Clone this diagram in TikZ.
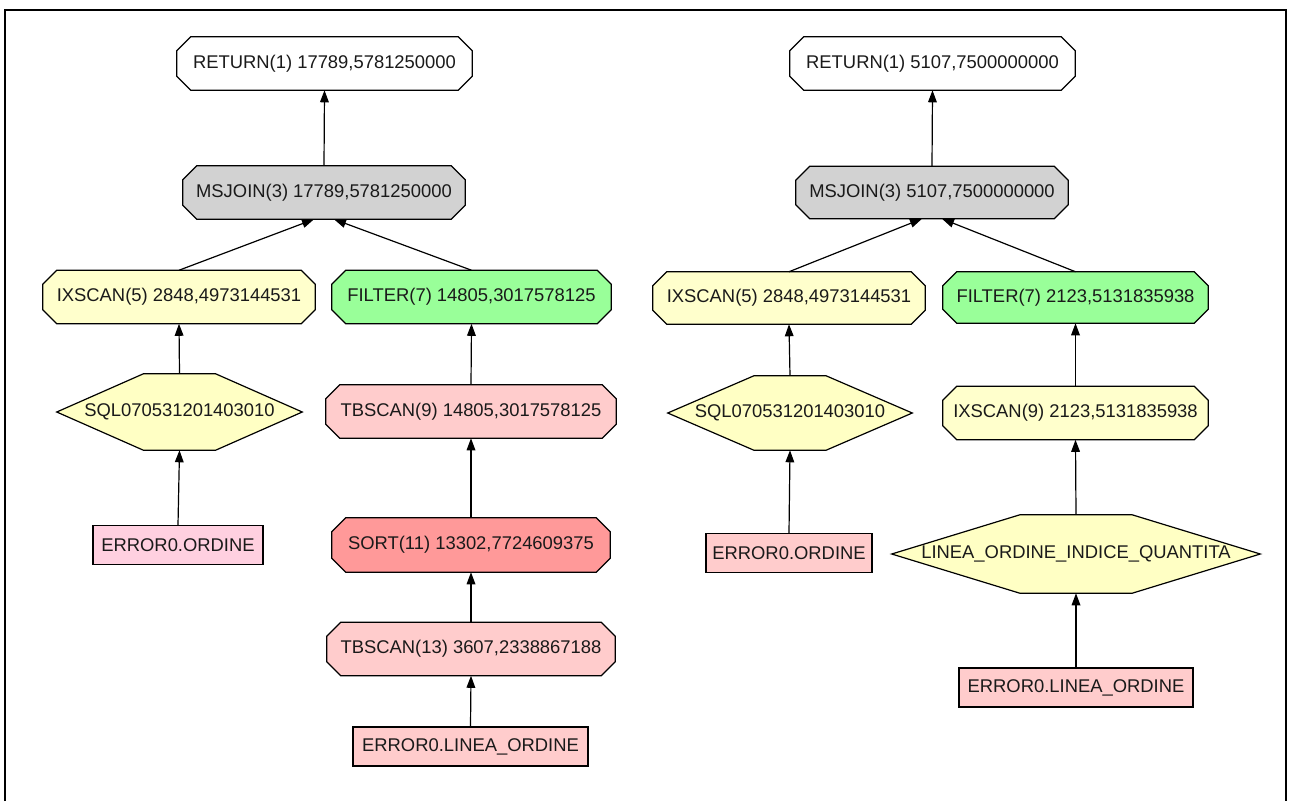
\documentclass[tikz,border=0pt]{standalone}
\usepackage{fontspec}
\setmainfont{Liberation Sans}
\usetikzlibrary{arrows.meta,backgrounds}

\definecolor{retfill}{RGB}{255,255,255}
\definecolor{joinfill}{RGB}{210,210,210}
\definecolor{scanfill}{RGB}{255,255,204}
\definecolor{idxfill}{RGB}{255,255,196}
\definecolor{filtfill}{RGB}{153,255,153}
\definecolor{tbfill}{RGB}{255,204,204}
\definecolor{sortfill}{RGB}{255,153,153}
\definecolor{tabfill}{RGB}{255,208,224}
\definecolor{tab2fill}{RGB}{255,204,204}
\definecolor{ink}{RGB}{26,26,26}

% octagon (rectangle with cut corners) drawn round a named node
\newcommand\octo[3]{%
  \filldraw[fill=#3, draw=black, line width=0.9pt]
    ([xshift=#2]#1.north west) -- ([xshift=-#2]#1.north east) --
    ([yshift=-#2]#1.north east) -- ([yshift=#2]#1.south east) --
    ([xshift=-#2]#1.south east) -- ([xshift=#2]#1.south west) --
    ([yshift=#2]#1.south west) -- ([yshift=-#2]#1.north west) -- cycle;}
% flat-topped hexagon drawn round a named node
\newcommand\hexa[3]{%
  \filldraw[fill=#3, draw=black, line width=0.9pt]
    (#1.west) -- ([xshift=-#2]#1.north) -- ([xshift=#2]#1.north) --
    (#1.east) -- ([xshift=#2]#1.south) -- ([xshift=-#2]#1.south) -- cycle;}

\begin{document}
\begin{tikzpicture}[x=0.75pt,y=-0.75pt,
  every node/.style={font=\fontsize{13.8}{16}\selectfont, text=ink, inner sep=0pt},
  sz/.style 2 args={minimum width=#1*0.75pt, minimum height=#2*0.75pt},
  tab/.style={draw=black, line width=0.9pt},
  arr/.style={-{Triangle[length=9pt,width=6.5pt]}, line width=0.9pt, black}]

\useasboundingbox (0,0) rectangle (1289,801);

% frame
\draw[line width=1.8pt] (5,801) -- (5,10) -- (1286,10) -- (1286,801);

% ---- left plan ----
\node[sz={295}{53}] (ret1) at (324.5,63.5) {RETURN(1) 17789,5781250000};
\node[sz={282}{53}] (ms1)  at (324,192.5) {MSJOIN(3) 17789,5781250000};
\node[sz={272}{53}] (ix1)  at (179,297) {IXSCAN(5) 2848,4973144531};
\node[sz={279}{53}] (fi1)  at (471.5,297) {FILTER(7) 14805,3017578125};
\node[sz={245}{76}] (sq1)  at (179.5,412) {SQL070531201403010};
\node[sz={170}{39}, tab, fill=tabfill] (er1) at (178,545) {ERROR0.ORDINE};
\node[sz={290}{53}] (tb1)  at (471,411.5) {TBSCAN(9) 14805,3017578125};
\node[sz={278}{54}] (so1)  at (471,545) {SORT(11) 13302,7724609375};
\node[sz={288}{53}] (tb2)  at (471,649) {TBSCAN(13) 3607,2338867188};
\node[sz={235}{39}, tab, fill=tab2fill] (er2) at (470.5,746.5) {ERROR0.LINEA\_ORDINE};

% ---- right plan ----
\node[sz={285}{53}] (ret2) at (932.5,63.5) {RETURN(1) 5107,7500000000};
\node[sz={272}{52}] (ms2)  at (932,192.5) {MSJOIN(3) 5107,7500000000};
\node[sz={272}{52}] (ix2)  at (789,298) {IXSCAN(5) 2848,4973144531};
\node[sz={265}{51}] (fi2)  at (1075.5,297.5) {FILTER(7) 2123,5131835938};
\node[sz={244}{74}] (sq2)  at (790,413) {SQL070531201403010};
\node[sz={265}{53}] (ix3)  at (1075.5,413) {IXSCAN(9) 2123,5131835938};
\node[sz={166}{39}, tab, fill=tab2fill] (er3) at (789,553) {ERROR0.ORDINE};
\node[sz={368}{78}] (li)   at (1076,554) {LINEA\_ORDINE\_INDICE\_QUANTITA};
\node[sz={234}{39}, tab, fill=tab2fill] (er4) at (1076,687.5) {ERROR0.LINEA\_ORDINE};

% node outlines behind the labels
\begin{scope}[on background layer]
  \fill[white] (0,0) rectangle (1289,801);
  \octo{ret1}{10.5pt}{retfill}
  \octo{ms1}{10.5pt}{joinfill}
  \octo{ix1}{10.5pt}{scanfill}
  \octo{fi1}{10.5pt}{filtfill}
  \hexa{sq1}{27pt}{idxfill}
  \octo{tb1}{10.5pt}{tbfill}
  \octo{so1}{10.5pt}{sortfill}
  \octo{tb2}{10.5pt}{tbfill}
  \octo{ret2}{10.5pt}{retfill}
  \octo{ms2}{10.5pt}{joinfill}
  \octo{ix2}{10.5pt}{scanfill}
  \octo{fi2}{10.5pt}{filtfill}
  \hexa{sq2}{27pt}{idxfill}
  \octo{ix3}{10.5pt}{scanfill}
  \hexa{li}{42pt}{idxfill}
\end{scope}

% data flow, child to parent
\draw[arr] (ms1.north) -- (ret1.south);
\draw[arr] (ix1.north) -- ([xshift=-7.5pt]ms1.south);
\draw[arr] (fi1.north) -- ([xshift=7.5pt]ms1.south);
\draw[arr] (sq1.north) -- (ix1.south);
\draw[arr] (er1.north) -- (sq1.south);
\draw[arr] (tb1.north) -- (fi1.south);
\draw[arr] (so1.north) -- (tb1.south);
\draw[arr] (tb2.north) -- (so1.south);
\draw[arr] (er2.north) -- (tb2.south);

\draw[arr] (ms2.north) -- (ret2.south);
\draw[arr] (ix2.north) -- ([xshift=-7.5pt]ms2.south);
\draw[arr] (fi2.north) -- ([xshift=7.5pt]ms2.south);
\draw[arr] (sq2.north) -- (ix2.south);
\draw[arr] (er3.north) -- (sq2.south);
\draw[arr] (ix3.north) -- (fi2.south);
\draw[arr] (li.north) -- (ix3.south);
\draw[arr] (er4.north) -- (li.south);
\end{tikzpicture}
\end{document}
